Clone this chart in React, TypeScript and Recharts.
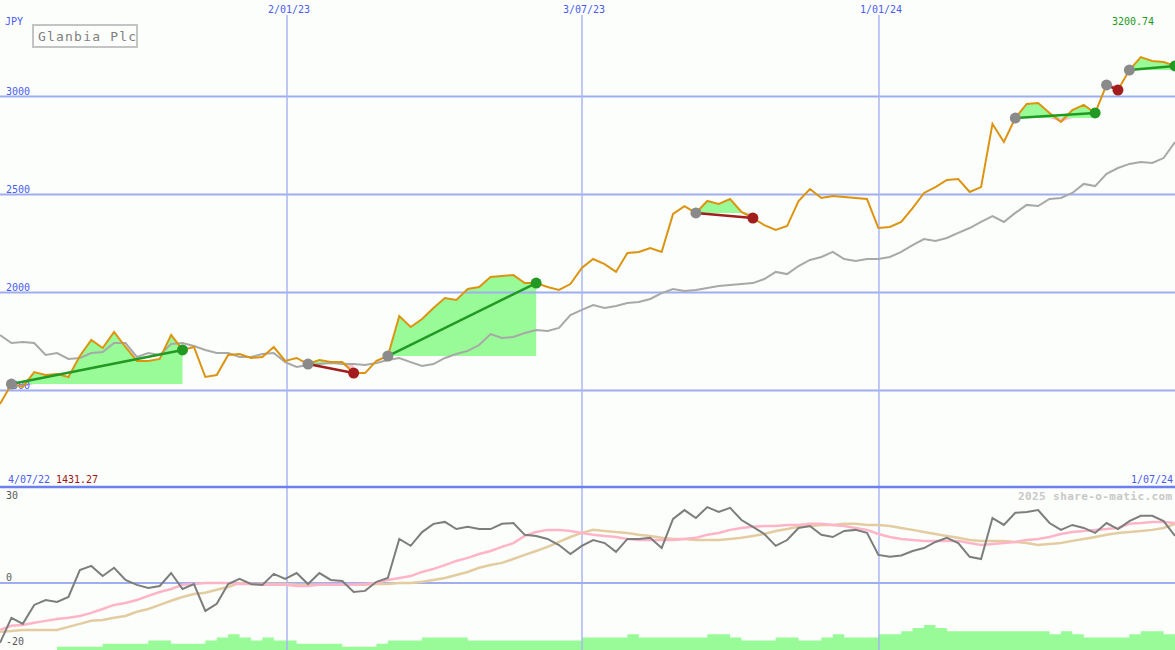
import { ComposedChart, Line, Area, Scatter, XAxis, YAxis, ReferenceLine } from "recharts";

// weekly closes, 4/07/22 .. 1/07/24 (JPY)
const closePrices = [
  1431.27, 1533, 1518, 1594, 1579, 1584, 1569, 1676, 1758, 1717,
  1799, 1722, 1651, 1651, 1661, 1784, 1707, 1722, 1569, 1579,
  1681, 1686, 1666, 1671, 1722, 1651, 1666, 1635, 1656, 1645,
  1645, 1589, 1589, 1651, 1676, 1880, 1824, 1865, 1921, 1972,
  1962, 2018, 2028, 2079, 2084, 2089, 2048, 2048, 2028, 2013,
  2043, 2125, 2171, 2145, 2105, 2202, 2207, 2227, 2207, 2401,
  2441, 2406, 2467, 2452, 2477, 2411, 2380, 2344, 2319, 2339,
  2467, 2528, 2482, 2492, 2487, 2482, 2477, 2329, 2334, 2360,
  2431, 2508, 2538, 2574, 2579, 2513, 2538, 2860, 2768, 2890,
  2962, 2967, 2916, 2870, 2931, 2957, 2916, 3059, 3033, 3135,
  3200.74, 3181, 3176, 3156,
];

const movingAvg = [
  1783, 1742, 1747, 1742, 1681, 1691, 1661, 1666, 1691, 1696,
  1742, 1742, 1671, 1691, 1681, 1737, 1742, 1727, 1707, 1691,
  1691, 1671, 1671, 1686, 1691, 1645, 1620, 1630, 1635, 1640,
  1635, 1635, 1630, 1640, 1656, 1666, 1645, 1625, 1635, 1666,
  1686, 1702, 1732, 1788, 1768, 1773, 1793, 1809, 1804, 1819,
  1885, 1911, 1936, 1921, 1931, 1946, 1952, 1967, 1997, 2018,
  2008, 2013, 2023, 2033, 2038, 2043, 2048, 2069, 2105, 2094,
  2135, 2166, 2181, 2207, 2171, 2161, 2171, 2171, 2181, 2207,
  2242, 2273, 2263, 2278, 2304, 2329, 2360, 2390, 2360, 2406,
  2447, 2441, 2477, 2482, 2508, 2554, 2543, 2605, 2635, 2656,
  2666, 2661, 2686, 2768,
];

// trades: week index of entry and exit
const entryIdx = [1, 27, 34, 61, 89, 97, 99];
const exitIdx = [16, 31, 47, 66, 96, 98, 103];

const momentum = [
  -21.8, -12.7, -14.9, -8, -6.2, -6.9, -5.1, 4.7, 6.2, 2.5,
  5.5, 1.1, -0.7, -1.8, -1.1, 3.6, -2.2, -0.4, -10.2, -7.6,
  -0.4, 1.5, -0.4, -0.7, 3.3, 1.5, 3.6, -0.4, 3.6, 1.1,
  0.7, -3.3, -2.9, 0.4, 1.8, 16, 13.5, 18.5, 21.5, 22.2,
  19.6, 20.4, 19.6, 19.6, 21.5, 21.8, 17.5, 17.1, 16, 13.8,
  10.5, 13.5, 15.6, 14.5, 11.3, 16, 16, 16.4, 12.7, 23.3,
  26.5, 23.6, 27.6, 25.8, 27.3, 22.9, 20.4, 17.8, 13.5, 15.6,
  20, 20.7, 17.5, 16.7, 18.9, 19.3, 18.2, 10.2, 9.5, 10,
  11.6, 12.7, 14.9, 16.4, 14.5, 9.5, 8.7, 23.6, 21.1, 25.5,
  25.8, 26.5, 21.8, 19.3, 21.1, 20, 18.2, 21.8, 19.6, 22.5,
  24.4, 24.4, 22.5, 17.1,
];

const fastSignal = [
  -17.1, -15.6, -15.3, -14.5, -13.8, -13.1, -12.7, -12, -10.9, -9.5,
  -8, -7.3, -6.2, -4.7, -3.3, -2.2, -0.7, -0.4, 0, 0,
  0, -0.4, -0.4, -0.7, -0.7, -0.7, -1.1, -1.1, -0.7, -0.7,
  -0.7, -0.7, -0.4, 0, 1.1, 1.8, 2.5, 4, 5.1, 6.5,
  8, 9.1, 10.5, 11.6, 13.1, 14.5, 17.1, 18.5, 19.3, 19.3,
  18.9, 18.2, 17.5, 17.1, 16.7, 16, 15.6, 15.6, 15.6, 15.6,
  16, 16.4, 17.5, 18.2, 19.3, 20, 20.4, 20.7, 20.7, 21.1,
  21.1, 21.5, 21.5, 21.1, 20.7, 20, 19.3, 17.8, 16.7, 16,
  15.6, 15.3, 15.3, 15.3, 15.3, 14.5, 13.8, 14.2, 14.5, 14.9,
  15.6, 16, 16.7, 17.8, 18.5, 18.9, 19.3, 19.6, 20, 21.5,
  21.8, 22.2, 22.2, 21.8,
];

const slowSignal = [
  -17.8, -17.5, -17.1, -17.1, -17.1, -17.1, -16, -14.9, -13.8, -13.5,
  -12.7, -12, -10.5, -9.5, -8, -6.5, -5.1, -4, -3.6, -2.5,
  -1.5, 0, -0.4, -0.4, -0.4, -0.4, -0.7, -0.7, -0.7, -0.7,
  -0.7, -0.7, -0.7, -0.4, -0.4, 0, 0, 0.4, 1.1, 1.8,
  2.9, 4, 5.5, 6.5, 7.3, 8.7, 10.2, 11.6, 13.1, 14.9,
  16.7, 18.2, 19.3, 18.9, 18.5, 18.2, 17.5, 17.1, 16.4, 16,
  16, 15.6, 15.6, 15.6, 16, 16.4, 17.1, 17.8, 18.9, 19.6,
  20.4, 20.7, 21.1, 21.1, 21.5, 21.5, 21.1, 21.1, 20.7, 20,
  19.3, 18.5, 17.8, 17.1, 16.4, 15.6, 15.3, 15.3, 15.3, 14.9,
  14.5, 13.8, 14.2, 14.5, 15.3, 16, 16.7, 17.5, 18.2, 18.5,
  18.9, 19.3, 20, 21.5,
];

const volume = [
  0, 0, 0, 0, 0, 1, 1, 1, 1, 2,
  2, 2, 2, 3, 3, 2, 2, 2, 3, 4,
  5, 4, 3, 4, 3, 3, 2, 2, 2, 2,
  1, 1, 1, 2, 3, 3, 3, 4, 4, 4,
  4, 3, 3, 3, 3, 3, 3, 3, 3, 3,
  3, 4, 4, 4, 4, 5, 4, 4, 4, 4,
  4, 4, 5, 5, 4, 3, 3, 3, 4, 4,
  3, 3, 4, 5, 4, 4, 4, 5, 5, 6,
  7, 8, 7, 6, 6, 6, 6, 6, 6, 6,
  6, 6, 5, 6, 5, 4, 4, 4, 4, 5,
  6, 6, 5, 5,
];

const priceLevels = [1500, 2000, 2500, 3000];
const oscLevels = [30, 0, -20];
const dateTicks = [25.16, 51.02, 77.05];
const dateLabels = ["2/01/23", "3/07/23", "1/01/24"];
const startLabel = "4/07/22";
const endLabel = "1/07/24";

const W = 1175;
const MONO = '"DejaVu Sans Mono", "Liberation Mono", monospace';
const BLUE_TEXT = "#4a5cf0";
const GRID_H = "#a0aef0";
const GRID_V = "#aab6f2";
const WIN = "#229922";
const LOSS = "#a21d1d";

const won = (i: number) => closePrices[exitIdx[i]] >= closePrices[entryIdx[i]];

const priceRows = closePrices.map((p, k) => {
  const row: Record<string, unknown> = { k, price: p, ma: movingAvg[k] };
  entryIdx.forEach((e, i) => {
    const x = exitIdx[i];
    const base = closePrices[e];
    const inside = k >= e && k <= x;
    row[`up${i}`] = inside ? [base, Math.max(p, base)] : null;
    row[`dn${i}`] = inside ? [Math.min(p, base), base] : null;
    row[`tr${i}`] = k === e || k === x ? p : null;
  });
  return row;
});

const entryDots = entryIdx.map((k) => ({ k, v: closePrices[k], color: "#8a8a8a" }));
const exitDots = exitIdx.map((k, i) => ({ k, v: closePrices[k], color: won(i) ? WIN : LOSS }));

const oscRows = momentum.map((m, k) => ({
  k,
  mom: m,
  fast: fastSignal[k],
  slow: slowSignal[k],
  vol: volume[k],
}));

const TradeDot = (props: any) => (
  <circle cx={props.cx} cy={props.cy} r={5.5} fill={props.payload.color} />
);

const levelLabel = (text: string) => (props: any) => (
  <text x={6} y={props.viewBox.y - 1.5} fill={BLUE_TEXT} fontFamily={MONO} fontSize={10}>
    {text}
  </text>
);

const dateLabel = (text: string) => (props: any) => (
  <text x={props.viewBox.x + 2} y={props.viewBox.y - 2} textAnchor="middle" fill={BLUE_TEXT} fontFamily={MONO} fontSize={10}>
    {text}
  </text>
);

const oscLabel = (v: number) => (props: any) => (
  <text x={6} y={props.viewBox.y + (v < 0 ? 7.5 : -1.5)} fill="#5a5a5a" fontFamily={MONO} fontSize={10}>
    {String(v)}
  </text>
);

function PricePanel() {
  return (
    <ComposedChart width={W} height={487} data={priceRows} margin={{ top: 15, right: 0, bottom: 0, left: 0 }}>
      <XAxis dataKey="k" type="number" domain={[0, 103]} hide />
      <YAxis type="number" domain={[1007.7, 3415.8]} hide allowDataOverflow />
      {priceLevels.map((v) => (
        <ReferenceLine key={v} y={v} stroke={GRID_H} strokeWidth={2} label={levelLabel(String(v))} />
      ))}
      {dateTicks.map((d, i) => (
        <ReferenceLine key={d} x={d} stroke={GRID_V} strokeWidth={1.5} label={dateLabel(dateLabels[i])} />
      ))}
      {entryIdx.map((_, i) => (
        <Area key={`up${i}`} type="linear" dataKey={`up${i}`} stroke="none" fill="#98fb98" fillOpacity={1} isAnimationActive={false} />
      ))}
      {entryIdx.map((_, i) => (
        <Area key={`dn${i}`} type="linear" dataKey={`dn${i}`} stroke="none" fill="#ffbfcc" fillOpacity={1} isAnimationActive={false} />
      ))}
      <Line type="linear" dataKey="ma" stroke="#a8a8a8" strokeWidth={2} dot={false} isAnimationActive={false} />
      <Line type="linear" dataKey="price" stroke="#dc9410" strokeWidth={2} dot={false} isAnimationActive={false} />
      {entryIdx.map((_, i) => (
        <Line
          key={`tr${i}`}
          type="linear"
          dataKey={`tr${i}`}
          connectNulls
          stroke={won(i) ? WIN : LOSS}
          strokeWidth={2.5}
          dot={false}
          isAnimationActive={false}
        />
      ))}
      <Scatter data={entryDots} dataKey="v" shape={TradeDot} isAnimationActive={false} />
      <Scatter data={exitDots} dataKey="v" shape={TradeDot} isAnimationActive={false} />
    </ComposedChart>
  );
}

function OscillatorPanel() {
  return (
    <ComposedChart width={W} height={163} data={oscRows} margin={{ top: 0, right: 0, bottom: 0, left: 0 }}>
      <XAxis dataKey="k" type="number" domain={[0, 103]} hide />
      <YAxis yAxisId="osc" type="number" domain={[-24.4, 34.9]} hide allowDataOverflow />
      <YAxis yAxisId="vol" type="number" domain={[0, 52]} hide allowDataOverflow />
      {dateTicks.map((d) => (
        <ReferenceLine key={d} yAxisId="osc" x={d} stroke={GRID_V} strokeWidth={1.5} />
      ))}
      {oscLevels.map((v) => (
        <ReferenceLine
          key={v}
          yAxisId="osc"
          y={v}
          stroke={v === 0 ? GRID_H : "none"}
          strokeWidth={2}
          label={oscLabel(v)}
        />
      ))}
      <Area yAxisId="vol" type="stepAfter" dataKey="vol" stroke="none" fill="#98fb98" fillOpacity={1} isAnimationActive={false} />
      <Line yAxisId="osc" type="linear" dataKey="slow" stroke="#e3cc9f" strokeWidth={2.5} dot={false} isAnimationActive={false} />
      <Line yAxisId="osc" type="linear" dataKey="fast" stroke="#ffb4c8" strokeWidth={2.5} dot={false} isAnimationActive={false} />
      <Line yAxisId="osc" type="linear" dataKey="mom" stroke="#7d7d7d" strokeWidth={2} dot={false} isAnimationActive={false} />
    </ComposedChart>
  );
}

export default function App() {
  const maxPrice = Math.max(...closePrices);
  return (
    <div
      style={{
        position: "absolute",
        left: 0,
        top: 0,
        width: W,
        height: 650,
        background: "#fcfefc",
        overflow: "hidden",
      }}
    >
      <div style={{ position: "absolute", left: 0, top: 0 }}>
        <PricePanel />
      </div>
      <div style={{ position: "absolute", left: 0, top: 487 }}>
        <OscillatorPanel />
      </div>
      <svg width={W} height={650} style={{ position: "absolute", left: 0, top: 0, pointerEvents: "none" }}>
        <line x1={0} x2={W} y1={487} y2={487} stroke="#6e80f0" strokeWidth={2.5} />
        <text x={5} y={25} fill={BLUE_TEXT} fontFamily={MONO} fontSize={10}>JPY</text>
        <rect x={33} y={25} width={104} height={22} fill="#fcfefc" stroke="#c4c4c4" strokeWidth={2} />
        <text x={38} y={41} fill="#7f7f7f" fontFamily={MONO} fontSize={13} letterSpacing={1.2}>Glanbia Plc</text>
        <text x={1112} y={25} fill={WIN} fontFamily={MONO} fontSize={10}>{maxPrice.toFixed(2)}</text>
        <text x={8} y={483} fill={BLUE_TEXT} fontFamily={MONO} fontSize={10}>{startLabel}</text>
        <text x={56} y={483} fill="#a21515" fontFamily={MONO} fontSize={10}>{closePrices[0].toFixed(2)}</text>
        <text x={1131} y={483} fill={BLUE_TEXT} fontFamily={MONO} fontSize={10}>{endLabel}</text>
        <text x={1018} y={500} fill="#c8c8c8" fontFamily={MONO} fontSize={11} fontWeight="bold" letterSpacing={0.4}>
          2025 share-o-matic.com
        </text>
      </svg>
    </div>
  );
}
